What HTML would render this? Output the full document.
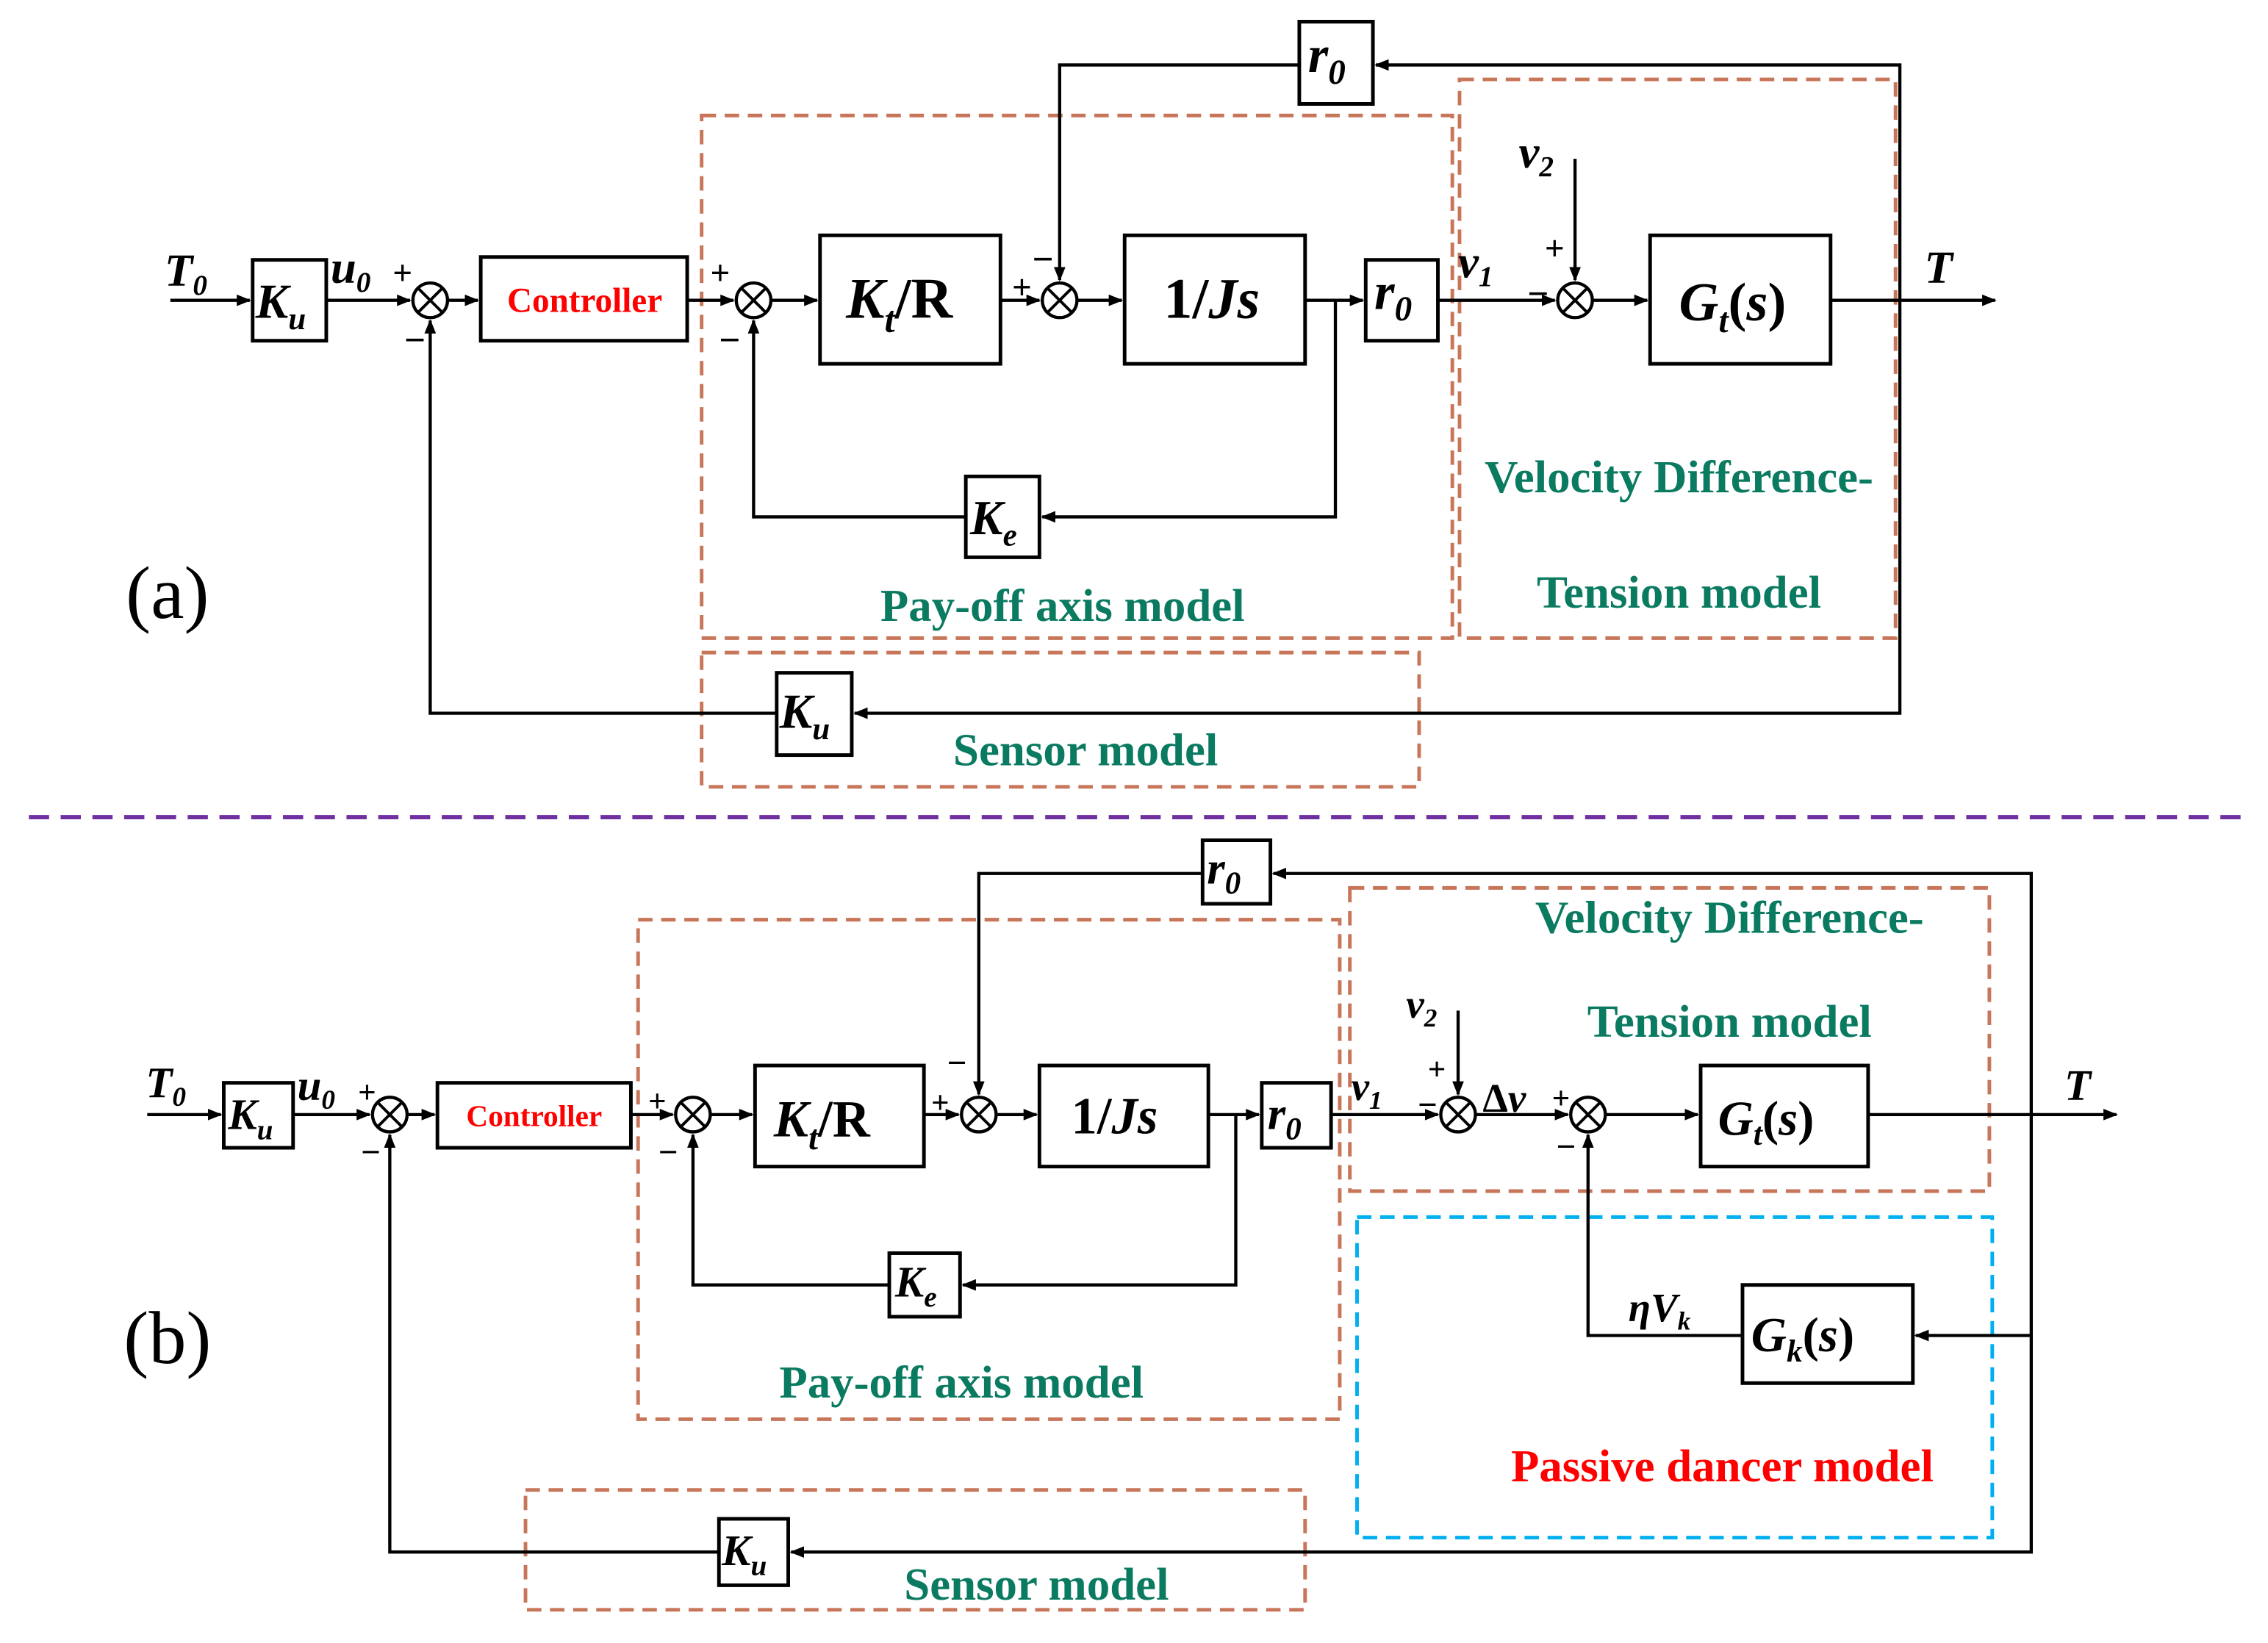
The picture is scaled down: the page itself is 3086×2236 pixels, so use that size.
<!DOCTYPE html>
<html><head><meta charset="utf-8"><style>
html,body{margin:0;padding:0;background:#fff;}
svg{display:block;}
.b{fill:#fff;stroke:#000;stroke-width:2.5;}
.l{stroke:#000;stroke-width:2.2;fill:none;}
.d{fill:none;stroke:#c8765a;stroke-width:2.5;stroke-dasharray:10,6;}
.t{font-family:"Liberation Serif",serif;font-weight:bold;font-style:italic;fill:#000;}
.s{font-family:"Liberation Serif",serif;font-weight:bold;fill:#000;}
.g{font-family:"Liberation Serif",serif;font-weight:bold;fill:#0a7a60;font-size:32px;text-anchor:middle;}
.r{font-family:"Liberation Serif",serif;font-weight:bold;fill:#ff0000;text-anchor:middle;}
</style></head><body>
<svg width="3086" height="2236" viewBox="0 0 1571 1138" preserveAspectRatio="none" xmlns="http://www.w3.org/2000/svg">
<defs>
<marker id="a" markerWidth="10" markerHeight="8" refX="9" refY="4" orient="auto" markerUnits="userSpaceOnUse"><path d="M0,0 L10,4 L0,8 z" fill="#000"/></marker>
<g id="sum"><circle r="12" fill="#fff" stroke="#000" stroke-width="2.2"/><path d="M-8.5,-8.5 L8.5,8.5 M-8.5,8.5 L8.5,-8.5" stroke="#000" stroke-width="2"/></g>
</defs>

<!-- ============ (a) ============ -->
<rect class="d" x="486" y="80" width="520" height="362"/>
<rect class="d" x="1011" y="55" width="302" height="387"/>
<rect class="d" x="486" y="452" width="497" height="93"/>

<path class="l" d="M118,208 H173" marker-end="url(#a)"/>
<path class="l" d="M226,208 H284" marker-end="url(#a)"/>
<path class="l" d="M310,208 H331" marker-end="url(#a)"/>
<path class="l" d="M476,208 H508" marker-end="url(#a)"/>
<path class="l" d="M534,208 H566" marker-end="url(#a)"/>
<path class="l" d="M693,208 H720" marker-end="url(#a)"/>
<path class="l" d="M746,208 H777" marker-end="url(#a)"/>
<path class="l" d="M904,208 H944" marker-end="url(#a)"/>
<path class="l" d="M996,208 H1077" marker-end="url(#a)"/>
<path class="l" d="M1091,110 V194" marker-end="url(#a)"/>
<path class="l" d="M1103,208 H1141" marker-end="url(#a)"/>
<path class="l" d="M1268,208 H1382" marker-end="url(#a)"/>
<path class="l" d="M925,208 V358 H722" marker-end="url(#a)"/>
<path class="l" d="M669,358 H522 V222" marker-end="url(#a)"/>
<path class="l" d="M1316,208 V45 H953" marker-end="url(#a)"/>
<path class="l" d="M900,45 H734 V194" marker-end="url(#a)"/>
<path class="l" d="M1316,208 V494 H592" marker-end="url(#a)"/>
<path class="l" d="M538,494 H298 V222" marker-end="url(#a)"/>

<rect class="b" x="175" y="180" width="51" height="56"/>
<rect class="b" x="333" y="178" width="143" height="58"/>
<rect class="b" x="568" y="163" width="125" height="89"/>
<rect class="b" x="779" y="163" width="125" height="89"/>
<rect class="b" x="946" y="180" width="50" height="56"/>
<rect class="b" x="1143" y="163" width="125" height="89"/>
<rect class="b" x="669" y="330" width="51" height="56"/>
<rect class="b" x="900" y="15" width="51" height="57"/>
<rect class="b" x="538" y="466" width="52" height="57"/>

<use href="#sum" x="298" y="208"/><use href="#sum" x="522" y="208"/>
<use href="#sum" x="734" y="208"/><use href="#sum" x="1091" y="208"/>

<text class="t" x="114" y="198" font-size="32">T<tspan font-size="20" dy="6">0</tspan></text>
<text class="t" x="177" y="220" font-size="34">K<tspan font-size="22" dy="8">u</tspan></text>
<text class="t" x="229" y="196" font-size="32">u<tspan font-size="20" dy="6">0</tspan></text>
<text class="s" x="272" y="197" font-size="24">+</text>
<text class="s" x="280" y="244" font-size="26">−</text>
<text class="r" x="405" y="216" font-size="24">Controller</text>
<text class="s" x="492" y="197" font-size="24">+</text>
<text class="s" x="498" y="244" font-size="26">−</text>
<text class="t" x="586" y="220" font-size="40">K<tspan font-size="26" dy="10">t</tspan><tspan dy="-10" font-style="normal">/R</tspan></text>
<text class="s" x="701" y="207" font-size="24">+</text>
<text class="s" x="715" y="188" font-size="26">−</text>
<text class="t" x="806" y="220" font-size="40"><tspan font-style="normal">1/</tspan>Js</text>
<text class="t" x="952" y="214" font-size="36">r<tspan font-size="24" dy="8">0</tspan></text>
<text class="t" x="1010" y="192" font-size="32">v<tspan font-size="20" dy="6">1</tspan></text>
<text class="t" x="1052" y="116" font-size="32">v<tspan font-size="20" dy="6">2</tspan></text>
<text class="s" x="1058" y="212" font-size="26">−</text>
<text class="s" x="1070" y="180" font-size="24">+</text>
<text class="t" x="1163" y="222" font-size="38">G<tspan font-size="24" dy="8">t</tspan><tspan dy="-8" font-style="normal">(</tspan>s<tspan font-style="normal">)</tspan></text>
<text class="t" x="1333" y="196" font-size="32">T</text>
<text class="t" x="672" y="370" font-size="34">K<tspan font-size="22" dy="8">e</tspan></text>
<text class="t" x="906" y="50" font-size="36">r<tspan font-size="24" dy="8">0</tspan></text>
<text class="t" x="540" y="504" font-size="34">K<tspan font-size="22" dy="8">u</tspan></text>
<text class="g" x="736" y="430">Pay-off axis model</text>
<text class="g" x="1163" y="341">Velocity Difference-</text>
<text class="g" x="1163" y="421">Tension model</text>
<text class="g" x="752" y="530">Sensor model</text>
<text x="116" y="428" font-family="Liberation Serif,serif" font-size="52" text-anchor="middle">(a)</text>

<path d="M20,566 H1552" stroke="#7030a0" stroke-width="3" stroke-dasharray="14,8"/>

<!-- ============ (b) ============ -->
<rect class="d" x="442" y="637" width="486" height="346"/>
<rect class="d" x="935" y="615" width="443" height="210"/>
<rect x="940" y="843" width="440" height="222" fill="none" stroke="#00b0f0" stroke-width="2.5" stroke-dasharray="10,6"/>
<rect class="d" x="364" y="1032" width="540" height="83"/>

<path class="l" d="M102,772 H153" marker-end="url(#a)"/>
<path class="l" d="M203,772 H256" marker-end="url(#a)"/>
<path class="l" d="M282,772 H301" marker-end="url(#a)"/>
<path class="l" d="M437,772 H466" marker-end="url(#a)"/>
<path class="l" d="M492,772 H521" marker-end="url(#a)"/>
<path class="l" d="M640,772 H664" marker-end="url(#a)"/>
<path class="l" d="M690,772 H718" marker-end="url(#a)"/>
<path class="l" d="M837,772 H872" marker-end="url(#a)"/>
<path class="l" d="M922,772 H996" marker-end="url(#a)"/>
<path class="l" d="M1010,700 V758" marker-end="url(#a)"/>
<path class="l" d="M1022,772 H1086" marker-end="url(#a)"/>
<path class="l" d="M1112,772 H1176" marker-end="url(#a)"/>
<path class="l" d="M1294,772 H1466" marker-end="url(#a)"/>
<path class="l" d="M856,772 V890 H667" marker-end="url(#a)"/>
<path class="l" d="M616,890 H480 V786" marker-end="url(#a)"/>
<path class="l" d="M1407,772 V605 H882" marker-end="url(#a)"/>
<path class="l" d="M833,605 H678 V758" marker-end="url(#a)"/>
<path class="l" d="M1407,772 V925 H1327" marker-end="url(#a)"/>
<path class="l" d="M1207,925 H1100 V786" marker-end="url(#a)"/>
<path class="l" d="M1407,925 V1075 H548" marker-end="url(#a)"/>
<path class="l" d="M498,1075 H270 V786" marker-end="url(#a)"/>

<rect class="b" x="155" y="750" width="48" height="45"/>
<rect class="b" x="303" y="750" width="134" height="45"/>
<rect class="b" x="523" y="738" width="117" height="70"/>
<rect class="b" x="720" y="738" width="117" height="70"/>
<rect class="b" x="874" y="750" width="48" height="45"/>
<rect class="b" x="1178" y="738" width="116" height="70"/>
<rect class="b" x="616" y="868" width="49" height="44"/>
<rect class="b" x="833" y="582" width="47" height="44"/>
<rect class="b" x="1207" y="890" width="118" height="68"/>
<rect class="b" x="498" y="1052" width="48" height="46"/>

<use href="#sum" x="270" y="772"/><use href="#sum" x="480" y="772"/>
<use href="#sum" x="678" y="772"/><use href="#sum" x="1010" y="772"/>
<use href="#sum" x="1100" y="772"/>

<text class="t" x="101" y="760" font-size="30">T<tspan font-size="19" dy="6">0</tspan></text>
<text class="t" x="158" y="782" font-size="30">K<tspan font-size="20" dy="7">u</tspan></text>
<text class="t" x="206" y="762" font-size="30">u<tspan font-size="19" dy="6">0</tspan></text>
<text class="s" x="248" y="764" font-size="22">+</text>
<text class="s" x="250" y="806" font-size="24">−</text>
<text class="r" x="370" y="780" font-size="21">Controller</text>
<text class="s" x="449" y="770" font-size="22">+</text>
<text class="s" x="456" y="806" font-size="24">−</text>
<text class="t" x="536" y="787" font-size="36">K<tspan font-size="24" dy="9">t</tspan><tspan dy="-9" font-style="normal">/R</tspan></text>
<text class="s" x="645" y="771" font-size="22">+</text>
<text class="s" x="656" y="744" font-size="24">−</text>
<text class="t" x="742" y="785" font-size="36"><tspan font-style="normal">1/</tspan>Js</text>
<text class="t" x="878" y="782" font-size="32">r<tspan font-size="22" dy="7">0</tspan></text>
<text class="t" x="936" y="762" font-size="28">v<tspan font-size="18" dy="6">1</tspan></text>
<text class="t" x="974" y="705" font-size="28">v<tspan font-size="18" dy="6">2</tspan></text>
<text class="s" x="982" y="773" font-size="24">−</text>
<text class="s" x="989" y="748" font-size="22">+</text>
<text class="t" x="1027" y="770" font-size="28"><tspan font-style="normal">Δ</tspan>v</text>
<text class="s" x="1075" y="768" font-size="22">+</text>
<text class="s" x="1078" y="802" font-size="24">−</text>
<text class="t" x="1190" y="786" font-size="34">G<tspan font-size="22" dy="7">t</tspan><tspan dy="-7" font-style="normal">(</tspan>s<tspan font-style="normal">)</tspan></text>
<text class="t" x="1430" y="762" font-size="30">T</text>
<text class="t" x="620" y="898" font-size="30">K<tspan font-size="20" dy="7">e</tspan></text>
<text class="t" x="836" y="612" font-size="32">r<tspan font-size="22" dy="7">0</tspan></text>
<text class="t" x="1128" y="915" font-size="28">ηV<tspan font-size="18" dy="6">k</tspan></text>
<text class="t" x="1213" y="936" font-size="34">G<tspan font-size="22" dy="7">k</tspan><tspan dy="-7" font-style="normal">(</tspan>s<tspan font-style="normal">)</tspan></text>
<text class="t" x="500" y="1084" font-size="30">K<tspan font-size="20" dy="7">u</tspan></text>
<text class="g" x="666" y="968">Pay-off axis model</text>
<text class="g" x="1198" y="646">Velocity Difference-</text>
<text class="g" x="1198" y="718">Tension model</text>
<text class="r" x="1193" y="1026" font-size="32">Passive dancer model</text>
<text class="g" x="718" y="1108">Sensor model</text>
<text x="116" y="944" font-family="Liberation Serif,serif" font-size="52" text-anchor="middle">(b)</text>
</svg>
</body></html>
